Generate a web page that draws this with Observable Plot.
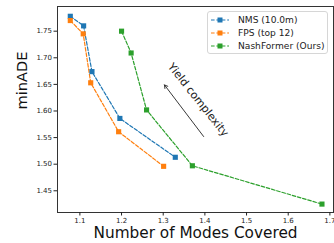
<!DOCTYPE html>
<html>
<head>
<meta charset="utf-8">
<script src="https://cdn.jsdelivr.net/npm/d3@7"></script>
<script src="https://cdn.jsdelivr.net/npm/@observablehq/plot@0.6"></script>
<style>
  html, body { margin: 0; padding: 0; background: #fff; }
  #wrap { position: relative; width: 334px; height: 243px; font-family: "DejaVu Sans", sans-serif; }
  #legend { position: absolute; left: 207px; top: 11px; width: 121px; height: 43px; box-sizing: border-box;
    border: 1px solid #d6d6d6; border-radius: 3px; background: rgba(255,255,255,0.85); font-size: 9.1px; color: #222; }
  .row { position: absolute; left: 0; height: 12px; display: flex; align-items: center; }
  .row svg { margin-left: 3px; }
  .row span { margin-left: 9px; white-space: nowrap; }
</style>
</head>
<body>
<div id="wrap"></div>
<script>
const seriesNames = ["NMS (10.0m)", "FPS (top 12)", "NashFormer (Ours)"];
const colors = ["#1f77b4", "#ff7f0e", "#2ca02c"];
const nmsX = [1.077, 1.109, 1.129, 1.196, 1.329];
const nmsY = [1.778, 1.760, 1.674, 1.586, 1.513];
const fpsX = [1.077, 1.108, 1.126, 1.193, 1.301];
const fpsY = [1.770, 1.745, 1.653, 1.561, 1.496];
const nashX = [1.200, 1.223, 1.260, 1.370, 1.681];
const nashY = [1.750, 1.709, 1.602, 1.497, 1.425];
const xTicks = [1.1, 1.2, 1.3, 1.4, 1.5, 1.6, 1.7];
const yTicks = [1.45, 1.50, 1.55, 1.60, 1.65, 1.70, 1.75];
const xLabel = "Number of Modes Covered";
const yLabel = "minADE";
const annText = "Yield complexity";
const arrowFrom = {x: 1.397, y: 1.552};
const arrowTo = {x: 1.303, y: 1.649};
const annPos = {x: 1.384, y: 1.621};

const xs = [nmsX, fpsX, nashX], ys = [nmsY, fpsY, nashY];
const data = [];
seriesNames.forEach((s, i) => xs[i].forEach((x, j) => data.push({series: s, x, y: ys[i][j]})));

const chart = Plot.plot({
  width: 334, height: 243,
  marginLeft: 57, marginRight: 1, marginTop: 6, marginBottom: 31,
  style: {fontFamily: "DejaVu Sans, sans-serif", color: "#222", background: "#fff"},
  x: {domain: [1.0463, 1.7087]},
  y: {domain: [1.4092, 1.7964]},
  color: {domain: seriesNames, range: colors},
  marks: [
    Plot.frame({stroke: "#333", strokeWidth: 1}),
    Plot.axisX({ticks: xTicks, tickFormat: d => d.toFixed(1), tickSize: 3.5, tickPadding: 2, fontSize: 7, label: null}),
    Plot.axisY({ticks: yTicks, tickFormat: d => d.toFixed(2), tickSize: 3.5, tickPadding: 2, fontSize: 7, label: null}),
    Plot.line(data, {x: "x", y: "y", z: "series", stroke: "series", strokeWidth: 1.2, strokeDasharray: "3.6,1.8"}),
    Plot.dot(data, {x: "x", y: "y", fill: "series", symbol: "square", r: 2.9, stroke: "none"}),
    Plot.arrow([0], {x1: () => arrowFrom.x, y1: () => arrowFrom.y, x2: () => arrowTo.x, y2: () => arrowTo.y, stroke: "#222", strokeWidth: 0.9, headLength: 6, bend: 0}),
    Plot.text([annText], {x: () => annPos.x, y: () => annPos.y, text: d => d, rotate: 51.5, fontSize: 11, fill: "#222"}),
    Plot.text([xLabel], {frameAnchor: "bottom", dy: 25.5, text: d => d, fontSize: 15.3, fill: "#111"}),
    Plot.text([yLabel], {frameAnchor: "left", dx: -35, text: d => d, rotate: -90, fontSize: 14.6, fill: "#111"})
  ]
});
const wrap = document.getElementById("wrap");
wrap.appendChild(chart);

const legend = document.createElement("div");
legend.id = "legend";
seriesNames.forEach((s, i) => {
  const row = document.createElement("div");
  row.className = "row";
  row.style.top = (1.5 + i * 13.4) + "px";
  row.innerHTML = `<svg width="18" height="10"><line x1="0" y1="5" x2="18" y2="5" stroke="${colors[i]}" stroke-width="1.2" stroke-dasharray="3.6,1.8"/><rect x="6.5" y="2.5" width="5" height="5" fill="${colors[i]}"/></svg><span>${s}</span>`;
  legend.appendChild(row);
});
wrap.appendChild(legend);
</script>
</body>
</html>
